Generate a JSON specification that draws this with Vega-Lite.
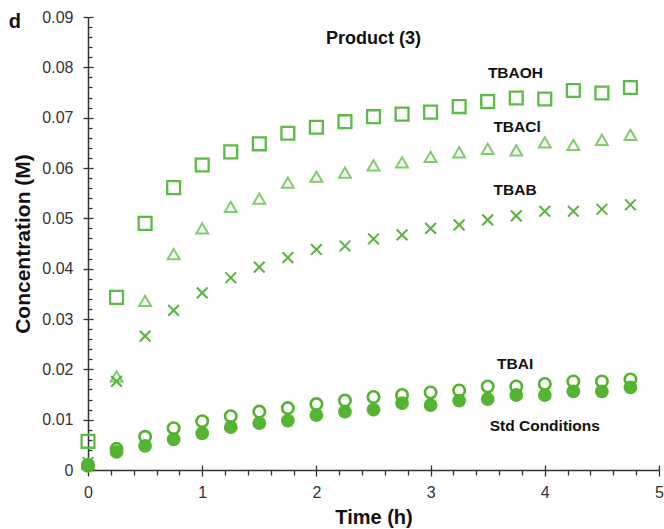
{
  "$schema": "https://vega.github.io/schema/vega-lite/v6.json",
  "width": 571,
  "height": 453,
  "autosize": {"type": "none"},
  "padding": {"left": 88, "top": 17, "right": 5, "bottom": 59},
  "background": "white",
  "config": {
    "view": {"stroke": null},
    "font": "Liberation Sans",
    "axis": {"labelOverlap": false, "labelFlush": false, "labelBound": false}
  },
  "datasets": {
    "pts": [
      {"t": 0, "c": 0.0057, "s": "TBAOH"}, {"t": 0.25, "c": 0.0343, "s": "TBAOH"}, {"t": 0.5, "c": 0.0490, "s": "TBAOH"}, {"t": 0.75, "c": 0.0561, "s": "TBAOH"}, {"t": 1, "c": 0.0606, "s": "TBAOH"}, {"t": 1.25, "c": 0.0632, "s": "TBAOH"}, {"t": 1.5, "c": 0.0648, "s": "TBAOH"}, {"t": 1.75, "c": 0.0669, "s": "TBAOH"}, {"t": 2, "c": 0.0681, "s": "TBAOH"}, {"t": 2.25, "c": 0.0692, "s": "TBAOH"}, {"t": 2.5, "c": 0.0702, "s": "TBAOH"}, {"t": 2.75, "c": 0.0707, "s": "TBAOH"}, {"t": 3, "c": 0.0711, "s": "TBAOH"}, {"t": 3.25, "c": 0.0722, "s": "TBAOH"}, {"t": 3.5, "c": 0.0732, "s": "TBAOH"}, {"t": 3.75, "c": 0.0739, "s": "TBAOH"}, {"t": 4, "c": 0.0737, "s": "TBAOH"}, {"t": 4.25, "c": 0.0754, "s": "TBAOH"}, {"t": 4.5, "c": 0.0749, "s": "TBAOH"}, {"t": 4.75, "c": 0.0760, "s": "TBAOH"},
      {"t": 0, "c": 0.0012, "s": "TBACl"}, {"t": 0.25, "c": 0.0186, "s": "TBACl"}, {"t": 0.5, "c": 0.0336, "s": "TBACl"}, {"t": 0.75, "c": 0.0429, "s": "TBACl"}, {"t": 1, "c": 0.0480, "s": "TBACl"}, {"t": 1.25, "c": 0.0523, "s": "TBACl"}, {"t": 1.5, "c": 0.0539, "s": "TBACl"}, {"t": 1.75, "c": 0.0571, "s": "TBACl"}, {"t": 2, "c": 0.0583, "s": "TBACl"}, {"t": 2.25, "c": 0.0591, "s": "TBACl"}, {"t": 2.5, "c": 0.0605, "s": "TBACl"}, {"t": 2.75, "c": 0.0611, "s": "TBACl"}, {"t": 3, "c": 0.0622, "s": "TBACl"}, {"t": 3.25, "c": 0.0631, "s": "TBACl"}, {"t": 3.5, "c": 0.0638, "s": "TBACl"}, {"t": 3.75, "c": 0.0635, "s": "TBACl"}, {"t": 4, "c": 0.0651, "s": "TBACl"}, {"t": 4.25, "c": 0.0646, "s": "TBACl"}, {"t": 4.5, "c": 0.0656, "s": "TBACl"}, {"t": 4.75, "c": 0.0666, "s": "TBACl"},
      {"t": 0, "c": 0.0015, "s": "TBAB"}, {"t": 0.25, "c": 0.0176, "s": "TBAB"}, {"t": 0.5, "c": 0.0266, "s": "TBAB"}, {"t": 0.75, "c": 0.0317, "s": "TBAB"}, {"t": 1, "c": 0.0352, "s": "TBAB"}, {"t": 1.25, "c": 0.0382, "s": "TBAB"}, {"t": 1.5, "c": 0.0403, "s": "TBAB"}, {"t": 1.75, "c": 0.0422, "s": "TBAB"}, {"t": 2, "c": 0.0438, "s": "TBAB"}, {"t": 2.25, "c": 0.0445, "s": "TBAB"}, {"t": 2.5, "c": 0.0459, "s": "TBAB"}, {"t": 2.75, "c": 0.0467, "s": "TBAB"}, {"t": 3, "c": 0.0480, "s": "TBAB"}, {"t": 3.25, "c": 0.0487, "s": "TBAB"}, {"t": 3.5, "c": 0.0497, "s": "TBAB"}, {"t": 3.75, "c": 0.0505, "s": "TBAB"}, {"t": 4, "c": 0.0514, "s": "TBAB"}, {"t": 4.25, "c": 0.0514, "s": "TBAB"}, {"t": 4.5, "c": 0.0518, "s": "TBAB"}, {"t": 4.75, "c": 0.0527, "s": "TBAB"},
      {"t": 0, "c": 0.0010, "s": "TBAI"}, {"t": 0.25, "c": 0.0042, "s": "TBAI"}, {"t": 0.5, "c": 0.0066, "s": "TBAI"}, {"t": 0.75, "c": 0.0083, "s": "TBAI"}, {"t": 1, "c": 0.0097, "s": "TBAI"}, {"t": 1.25, "c": 0.0107, "s": "TBAI"}, {"t": 1.5, "c": 0.0116, "s": "TBAI"}, {"t": 1.75, "c": 0.0123, "s": "TBAI"}, {"t": 2, "c": 0.0131, "s": "TBAI"}, {"t": 2.25, "c": 0.0138, "s": "TBAI"}, {"t": 2.5, "c": 0.0145, "s": "TBAI"}, {"t": 2.75, "c": 0.0149, "s": "TBAI"}, {"t": 3, "c": 0.0154, "s": "TBAI"}, {"t": 3.25, "c": 0.0158, "s": "TBAI"}, {"t": 3.5, "c": 0.0166, "s": "TBAI"}, {"t": 3.75, "c": 0.0166, "s": "TBAI"}, {"t": 4, "c": 0.0171, "s": "TBAI"}, {"t": 4.25, "c": 0.0176, "s": "TBAI"}, {"t": 4.5, "c": 0.0176, "s": "TBAI"}, {"t": 4.75, "c": 0.0180, "s": "TBAI"},
      {"t": 0, "c": 0.0008, "s": "Std"}, {"t": 0.25, "c": 0.0036, "s": "Std"}, {"t": 0.5, "c": 0.0048, "s": "Std"}, {"t": 0.75, "c": 0.0061, "s": "Std"}, {"t": 1, "c": 0.0073, "s": "Std"}, {"t": 1.25, "c": 0.0085, "s": "Std"}, {"t": 1.5, "c": 0.0093, "s": "Std"}, {"t": 1.75, "c": 0.0098, "s": "Std"}, {"t": 2, "c": 0.0109, "s": "Std"}, {"t": 2.25, "c": 0.0116, "s": "Std"}, {"t": 2.5, "c": 0.0120, "s": "Std"}, {"t": 2.75, "c": 0.0133, "s": "Std"}, {"t": 3, "c": 0.0129, "s": "Std"}, {"t": 3.25, "c": 0.0138, "s": "Std"}, {"t": 3.5, "c": 0.0141, "s": "Std"}, {"t": 3.75, "c": 0.0149, "s": "Std"}, {"t": 4, "c": 0.0149, "s": "Std"}, {"t": 4.25, "c": 0.0156, "s": "Std"}, {"t": 4.5, "c": 0.0156, "s": "Std"}, {"t": 4.75, "c": 0.0164, "s": "Std"}
    ],
    "labels": [
      {"t": 3.743, "c": 0.0789, "txt": "TBAOH", "k": "s"},
      {"t": 3.757, "c": 0.0682, "txt": "TBACl", "k": "s"},
      {"t": 3.74, "c": 0.0557, "txt": "TBAB", "k": "s"},
      {"t": 3.74, "c": 0.0211, "txt": "TBAI", "k": "s"},
      {"t": 4.0, "c": 0.00875, "txt": "Std Conditions", "k": "s"},
      {"t": 2.5, "c": 0.0857, "txt": "Product (3)", "k": "t"},
      {"t": -0.64, "c": 0.0891, "txt": "d", "k": "d"}
    ]
  },
  "resolve": {"scale": {"x": "independent", "y": "independent"}},
  "layer": [
    {
      "encoding": {
        "x": {
          "field": "t", "type": "quantitative",
          "scale": {"domain": [0, 5], "nice": false, "zero": false},
          "axis": {
            "title": "Time (h)",
            "titleFont": "Liberation Sans", "titleFontSize": 20, "titleFontWeight": "bold", "titleColor": "#111", "titlePadding": 7,
            "values": [0,0.2,0.4,0.6,0.8,1,1.2,1.4,1.6,1.8,2,2.2,2.4,2.6,2.8,3,3.2,3.4,3.6,3.8,4,4.2,4.4,4.6,4.8,5],
            "labelExpr": "abs(datum.value - round(datum.value)) < 1e-6 ? format(datum.value, 'd') : ''",
            "labelFontSize": 16, "labelColor": "#333", "labelPadding": 8, "labelFlush": false, "labelOverlap": false,
            "grid": false, "domainColor": "#333", "domainWidth": 1.5,
            "tickColor": "#333", "tickWidth": 1.3,
            "tickSize": {"condition": {"test": "abs(datum.value - round(datum.value)) < 1e-6", "value": 6}, "value": 5}
          }
        },
        "y": {
          "field": "c", "type": "quantitative",
          "scale": {"domain": [0, 0.09], "nice": false},
          "axis": {
            "title": "Concentration (M)",
            "titleFont": "Liberation Sans", "titleFontSize": 21, "titleFontWeight": "bold", "titleColor": "#111", "titlePadding": 8,
            "values": [0,0.002,0.004,0.006,0.008,0.01,0.012,0.014,0.016,0.018,0.02,0.022,0.024,0.026,0.028,0.03,0.032,0.034,0.036,0.038,0.04,0.042,0.044,0.046,0.048,0.05,0.052,0.054,0.056,0.058,0.06,0.062,0.064,0.066,0.068,0.07,0.072,0.074,0.076,0.078,0.08,0.082,0.084,0.086,0.088,0.09],
            "labelExpr": "abs(datum.value*100 - round(datum.value*100)) < 1e-6 ? (datum.value == 0 ? '0' : format(datum.value, '.2f')) : ''",
            "labelFontSize": 16, "labelColor": "#333", "labelPadding": 10, "labelOverlap": false, "labelFlush": false,
            "grid": false, "domainColor": "#333", "domainWidth": 1.5,
            "tickColor": "#333", "tickWidth": 1.3,
            "tickSize": {"condition": {"test": "abs(datum.value*100 - round(datum.value*100)) < 1e-6", "value": 5}, "value": 0}
          }
        }
      },
      "layer": [
        {
          "data": {"name": "pts"},
          "transform": [{"filter": "datum.s === 'TBAOH'"}],
          "mark": {"type": "point", "shape": "square", "size": 165, "filled": false, "stroke": "#5cba45", "strokeWidth": 2.3, "opacity": 1}
        },
        {
          "data": {"name": "pts"},
          "transform": [{"filter": "datum.s === 'TBACl'"}],
          "mark": {"type": "point", "shape": "triangle-up", "size": 140, "filled": false, "stroke": "#7dce68", "strokeWidth": 2, "opacity": 1}
        },
        {
          "data": {"name": "pts"},
          "transform": [{"filter": "datum.s === 'TBAB'"}],
          "mark": {"type": "point", "shape": "M-1,-1L1,1M1,-1L-1,1", "size": 115, "filled": false, "stroke": "#56b43c", "strokeWidth": 2, "opacity": 1}
        },
        {
          "data": {"name": "pts"},
          "transform": [{"filter": "datum.s === 'Std'"}],
          "mark": {"type": "point", "shape": "circle", "size": 190, "filled": true, "fill": "#55b533", "opacity": 1}
        },
        {
          "data": {"name": "pts"},
          "transform": [{"filter": "datum.s === 'TBAI'"}],
          "mark": {"type": "point", "shape": "circle", "size": 130, "filled": false, "stroke": "#52b22e", "strokeWidth": 2.6, "opacity": 1}
        },
        {
          "data": {"name": "labels"},
          "transform": [{"filter": "datum.k === 's'"}],
          "mark": {"type": "text", "font": "Liberation Sans", "fontWeight": "bold", "fontSize": 15.5, "color": "#111", "align": "center", "baseline": "middle"},
          "encoding": {"text": {"field": "txt"}}
        },
        {
          "data": {"name": "labels"},
          "transform": [{"filter": "datum.k === 't'"}],
          "mark": {"type": "text", "font": "Liberation Sans", "fontWeight": "bold", "fontSize": 18, "color": "#111", "align": "center", "baseline": "middle"},
          "encoding": {"text": {"field": "txt"}}
        },
        {
          "data": {"name": "labels"},
          "transform": [{"filter": "datum.k === 'd'"}],
          "mark": {"type": "text", "font": "Liberation Sans", "fontWeight": "bold", "fontSize": 20, "color": "#111", "align": "center", "baseline": "middle"},
          "encoding": {"text": {"field": "txt"}}
        }
      ]
    },
    {
      "data": {"name": "pts"},
      "mark": {"type": "point", "opacity": 0},
      "encoding": {
        "x": {
          "field": "t", "type": "quantitative",
          "scale": {"domain": [0, 5], "nice": false, "zero": false},
          "axis": {
            "orient": "bottom", "title": null, "domain": false, "labels": false, "grid": false,
            "values": [0,1,2,3,4,5],
            "tickColor": "#333", "tickWidth": 1.3, "tickSize": -5
          }
        },
        "y": {
          "field": "c", "type": "quantitative",
          "scale": {"domain": [0, 0.09], "nice": false},
          "axis": {
            "orient": "left", "title": null, "domain": false, "labels": false, "grid": false,
            "values": [0,0.002,0.004,0.006,0.008,0.01,0.012,0.014,0.016,0.018,0.02,0.022,0.024,0.026,0.028,0.03,0.032,0.034,0.036,0.038,0.04,0.042,0.044,0.046,0.048,0.05,0.052,0.054,0.056,0.058,0.06,0.062,0.064,0.066,0.068,0.07,0.072,0.074,0.076,0.078,0.08,0.082,0.084,0.086,0.088,0.09],
            "tickColor": "#333", "tickWidth": 1.3,
            "tickSize": {"condition": {"test": "abs(datum.value*100 - round(datum.value*100)) < 1e-6", "value": -5}, "value": -4}
          }
        }
      }
    }
  ]
}
